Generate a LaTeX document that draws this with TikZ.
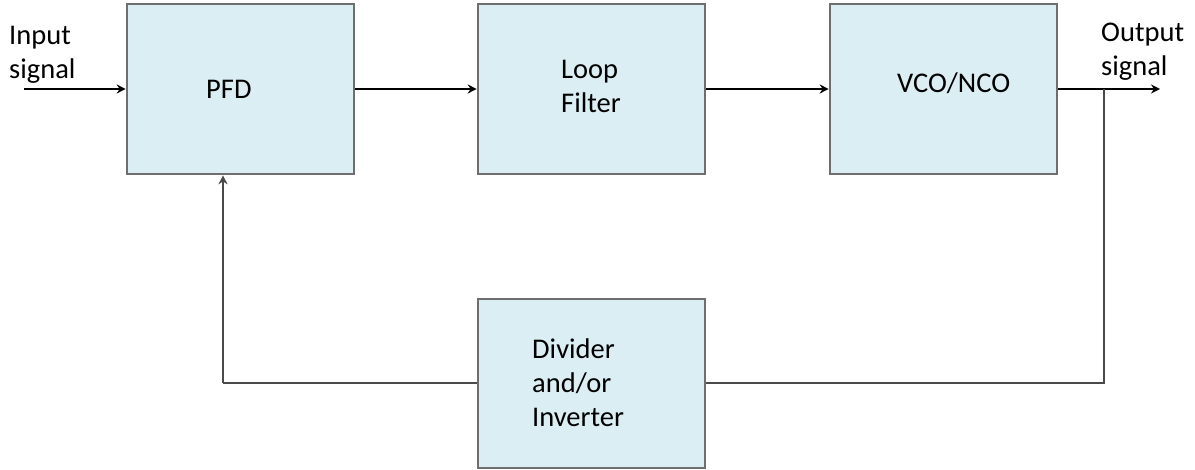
\documentclass[tikz,border=0pt]{standalone}
\usepackage{fontspec}
\setmainfont{Carlito}
\usetikzlibrary{arrows.meta}
\definecolor{boxfill}{HTML}{DAEEF3}
\definecolor{boxline}{HTML}{6E6E6E}
\definecolor{fbline}{HTML}{4A4A4A}
\tikzset{
  block/.style={draw=boxline, fill=boxfill, line width=2.6pt,
    minimum width=227pt, minimum height=170pt, inner sep=0pt},
  lbl/.style={inner sep=0pt, align=left, anchor=base west,
    font=\fontsize{28.5}{34.5}\selectfont},
  sig/.style={line width=2.1pt, draw=black,
    -{Stealth[length=9pt,width=9pt]}},
  fb/.style={line width=2.1pt, draw=fbline},
}
\begin{document}
\begin{tikzpicture}[x=1pt,y=-1pt]
\useasboundingbox (0,0) rectangle (1195,470);

% processing blocks
\node[block] (pfd) at (240.5,89) {};
\node[block] (lf)  at (591.5,89) {};
\node[block] (vco) at (943.5,89) {};
\node[block, minimum height=169pt] (div) at (591.5,383.5) {};

% block labels (anchored at the baseline of the last line)
\node[lbl] (tpfd) at (206,99) {PFD};
\node[lbl] (tlf)  at (561,113) {Loop\\Filter};
\node[lbl] (tvco) at (897,93) {VCO/NCO};
\node[lbl] (tdiv) at (532,427) {Divider\\and/or\\Inverter};

% external signal labels
\node[lbl] (tin)  at (9,79)  {Input\\signal};
\node[lbl] (tout) at (1101,76) {Output\\signal};

% signal path
\coordinate (in)  at (24,89);
\coordinate (out) at (1160,89);
\coordinate (tap) at (1104,89);
\coordinate (tapdown) at (1104,383);
\coordinate (fbcorner) at (223,383);

\draw[sig] (in) -- (pfd.west |- in);
\draw[sig] (pfd.east |- in) -- (lf.west |- in);
\draw[sig] (lf.east |- in) -- (vco.west |- in);
\draw[sig] (vco.east |- in) -- (out);

% feedback path
\draw[fb] (tap) -- (tapdown) -- (div.east |- tapdown);
\draw[fb] (div.west |- fbcorner) -- (fbcorner);
\draw[fb, -{Stealth[length=9pt,width=9pt]}]
  (fbcorner) -- (fbcorner |- pfd.south);
\end{tikzpicture}
\end{document}
